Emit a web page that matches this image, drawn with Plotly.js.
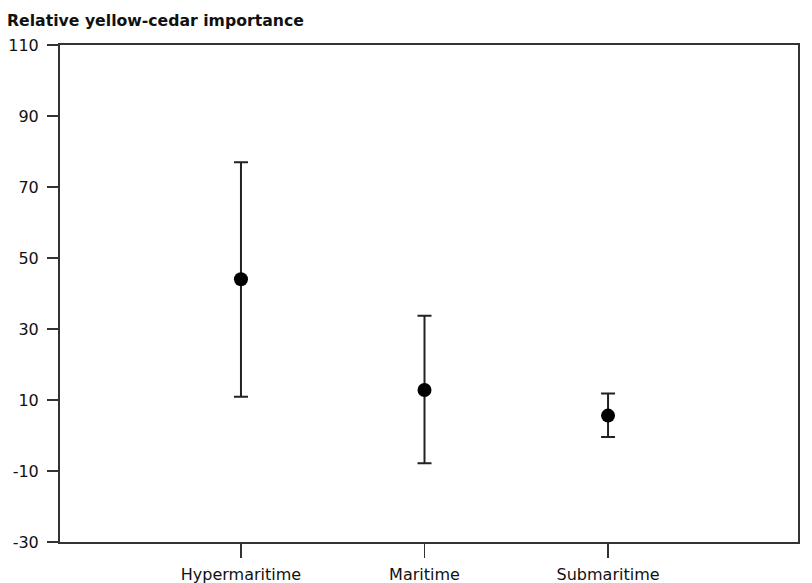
<!DOCTYPE html>
<html>
<head>
<meta charset="utf-8">
<script src="https://cdn.plot.ly/plotly-3.0.1.min.js"></script>
<style>html,body{margin:0;padding:0;background:#fff;}#chart{width:812px;height:583px;}</style>
</head>
<body>
<div id="chart"></div>
<script>
const categories = ["Hypermaritime", "Maritime", "Submaritime"];
const means = [44, 12.8, 5.6];
const upper = [77, 33.7, 11.8];
const lower = [10.9, -7.8, -0.4];
const yTicks = [-30, -10, 10, 30, 50, 70, 90, 110];

const xpos = categories.map((c, i) => i);
const errPlus = means.map((m, i) => upper[i] - m);
const errMinus = means.map((m, i) => m - lower[i]);

const trace = {
  type: "scatter",
  mode: "markers",
  x: xpos,
  y: means,
  marker: {color: "#000", size: 14},
  error_y: {
    type: "data",
    symmetric: false,
    array: errPlus,
    arrayminus: errMinus,
    color: "#222",
    thickness: 2,
    width: 7
  },
  hoverinfo: "skip"
};

const layout = {
  width: 812,
  height: 583,
  margin: {l: 60, r: 14, t: 45, b: 41},
  paper_bgcolor: "#fff",
  plot_bgcolor: "#fff",
  showlegend: false,
  font: {family: "DejaVu Sans, Liberation Sans, Arial, sans-serif", color: "#111", size: 16},
  annotations: [{
    text: "<b>Relative yellow-cedar importance</b>",
    xref: "paper", yref: "paper",
    x: -0.074, y: 1.05,
    xanchor: "left", yanchor: "middle",
    showarrow: false,
    font: {size: 15.7, color: "#111", family: "DejaVu Sans, sans-serif"}
  }],
  xaxis: {
    range: [-0.986, 3.035],
    tickmode: "array",
    tickvals: xpos,
    ticktext: categories,
    ticks: "outside",
    ticklen: 14,
    tickwidth: 1.5,
    tickcolor: "#333",
    ticklabelstandoff: 3,
    showgrid: false,
    zeroline: false,
    showline: true,
    linecolor: "#333",
    linewidth: 2,
    mirror: true,
    tickfont: {size: 16}
  },
  yaxis: {
    range: [-30, 110],
    tickmode: "array",
    tickvals: yTicks,
    ticktext: yTicks.map(String),
    ticks: "outside",
    ticklen: 11,
    tickwidth: 1.5,
    tickcolor: "#333",
    ticklabelstandoff: 5,
    showgrid: false,
    zeroline: false,
    showline: true,
    linecolor: "#333",
    linewidth: 2,
    mirror: true,
    tickfont: {size: 16}
  }
};

Plotly.newPlot("chart", [trace], layout, {displayModeBar: false, staticPlot: true});
</script>
</body>
</html>
